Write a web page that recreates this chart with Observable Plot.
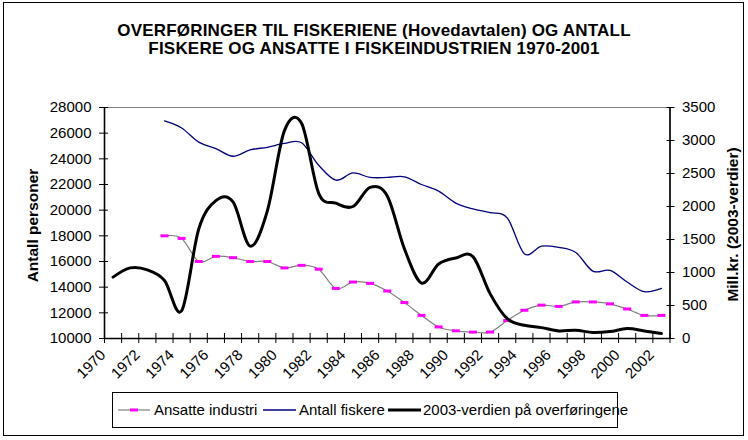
<!DOCTYPE html>
<html>
<head>
<meta charset="utf-8">
<script src="https://cdn.jsdelivr.net/npm/d3@7"></script>
<script src="https://cdn.jsdelivr.net/npm/@observablehq/plot@0.6"></script>
<style>
  html, body { margin: 0; padding: 0; background: #fff; }
  #wrap { position: relative; width: 748px; height: 440px; overflow: hidden; background: #fff;
          font-family: "Liberation Sans", Arial, sans-serif; color: #000; }
  #border { position: absolute; left: 3px; top: 2px; width: 741px; height: 434px; border: 1px solid #000; box-sizing: border-box; }
  #title { position: absolute; left: 0; top: 22px; width: 748px; text-align: center; font-weight: bold; font-size: 17px; line-height: 17.5px; letter-spacing: 0.2px; }
  #plot { position: absolute; left: 0; top: 70px; }
  #legend { position: absolute; left: 112px; top: 392px; width: 506px; height: 36px; border: 1px solid #000; box-sizing: border-box; font-size: 15px; }
  #legend .sw { position: absolute; top: 12px; }
  #legend .lt { position: absolute; top: 8px; line-height: 18px; white-space: nowrap; }
</style>
</head>
<body>
<div id="wrap">
  <div id="border"></div>
  <div id="title">OVERFØRINGER TIL FISKERIENE (Hovedavtalen) OG ANTALL<br>FISKERE OG ANSATTE I FISKEINDUSTRIEN 1970-2001</div>
  <div id="plot"></div>
  <div id="legend"></div>
</div>
<script>
// ---- data ----
const years = [1970,1971,1972,1973,1974,1975,1976,1977,1978,1979,1980,1981,1982,1983,1984,1985,1986,1987,1988,1989,1990,1991,1992,1993,1994,1995,1996,1997,1998,1999,2000,2001,2002];
const ansatteIndustri = [null,null,null,18000,17800,16000,16400,16300,16000,16000,15500,15700,15400,13900,14400,14300,13700,12800,11800,10900,10600,10500,10500,11400,12200,12600,12500,12850,12850,12700,12300,11800,11800];
const antallFiskere = [null,null,null,26950,26400,25300,24800,24200,24700,24900,25200,25250,23500,22340,22900,22550,22550,22600,22000,21480,20550,20100,19800,19400,16600,17200,17100,16700,15250,15300,14400,13650,13900];
const overforinger = [930,1070,1040,880,420,1660,2090,2070,1400,1930,3150,3260,2200,2050,2000,2290,2160,1360,840,1130,1220,1240,680,300,200,165,115,125,90,105,150,115,75];
const leftTicks = [10000,12000,14000,16000,18000,20000,22000,24000,26000,28000];
const rightTicks = [0,500,1000,1500,2000,2500,3000,3500];
const xLabels = [1970,1972,1974,1976,1978,1980,1982,1984,1986,1988,1990,1992,1994,1996,1998,2000,2002];
const seriesNames = ["Ansatte industri", "Antall fiskere", "2003-verdien på overføringene"];

// ---- scales mapping (secondary axis onto primary) ----
const leftDomain = [leftTicks[0], leftTicks[leftTicks.length - 1]];
const rightDomain = [rightTicks[0], rightTicks[rightTicks.length - 1]];
const toLeft = v => leftDomain[0] + (v - rightDomain[0]) * (leftDomain[1] - leftDomain[0]) / (rightDomain[1] - rightDomain[0]);
const rightLabel = new Map(rightTicks.map(v => [toLeft(v), String(v)]));

const rows = years.map((year, i) => ({year, ansatte: ansatteIndustri[i], fiskere: antallFiskere[i], overf: overforinger[i]}));
const xDomain = [years[0] - 0.5, years[years.length - 1] + 0.5];
const boundaries = years.map(y => y - 0.5).concat([xDomain[1]]);

const dash = { draw(ctx) { ctx.moveTo(-4, -1.5); ctx.lineTo(4, -1.5); ctx.lineTo(4, 1.5); ctx.lineTo(-4, 1.5); ctx.closePath(); } };

const chart = Plot.plot({
  width: 748,
  height: 322,
  marginLeft: 104,
  marginRight: 78.5,
  marginTop: 37,
  marginBottom: 54,
  x: {type: "linear", domain: xDomain},
  y: {type: "linear", domain: leftDomain},
  style: {fontFamily: "'Liberation Sans', Arial, sans-serif", fontSize: "15px", color: "#000", background: "transparent", overflow: "visible"},
  marks: [
    Plot.frame({stroke: "#808080"}),
    Plot.ruleX([xDomain[0], xDomain[1]], {stroke: "#000", strokeWidth: 1.6}),
    Plot.ruleY([leftDomain[0]], {stroke: "#000", strokeWidth: 1.6}),
    Plot.axisX({ticks: boundaries, tickSize: 10, dy: -5, text: null, tickFormat: () => "", label: null, stroke: "#000"}),
    Plot.text(xLabels, {x: d => d, frameAnchor: "bottom", text: d => String(d), rotate: -45, textAnchor: "end", lineAnchor: "middle", dy: 14, dx: -10, fontSize: 15}),
    Plot.axisY({anchor: "left", ticks: leftTicks, tickSize: 9, dx: 4, text: null, tickFormat: () => "", label: null}),
    Plot.axisY({anchor: "left", ticks: leftTicks, tickSize: 0, tickPadding: 13, tickFormat: d => String(d), label: null, fontSize: 15}),
    Plot.axisY({anchor: "right", ticks: rightTicks.map(toLeft), tickSize: 8, dx: -4, text: null, tickFormat: () => "", label: null}),
    Plot.axisY({anchor: "right", ticks: rightTicks.map(toLeft), tickSize: 0, tickPadding: 12, tickFormat: d => rightLabel.get(d), label: null, fontSize: 15}),
    Plot.text(["Antall personer"], {frameAnchor: "left", textAnchor: "middle", dx: -71.5, dy: 2.5, rotate: -90, fontWeight: "bold", fontSize: 15.5}),
    Plot.text(["Mill.kr. (2003-verdier)"], {frameAnchor: "right", textAnchor: "middle", dx: 63, dy: 1.5, rotate: -90, fontWeight: "bold", fontSize: 15.5}),
    Plot.line(rows.filter(d => d.ansatte != null), {x: "year", y: "ansatte", stroke: "#808080", strokeWidth: 1.2, curve: "cardinal"}),
    Plot.dot(rows.filter(d => d.ansatte != null), {x: "year", y: "ansatte", symbol: dash, fill: "#FF00FF", stroke: "none"}),
    Plot.line(rows.filter(d => d.fiskere != null), {x: "year", y: "fiskere", stroke: "#000080", strokeWidth: 1.3, curve: "cardinal"}),
    Plot.line(rows, {x: "year", y: d => toLeft(d.overf), stroke: "#000", strokeWidth: 3, curve: "cardinal"})
  ]
});
document.getElementById("plot").appendChild(chart);

// ---- legend ----
const legend = document.getElementById("legend");
const items = [
  {name: seriesNames[0], sw: 5, tx: 41, swW: 32, stroke: "#808080", sWidth: 1.2, marker: true},
  {name: seriesNames[1], sw: 150, tx: 186, swW: 33, stroke: "#000080", sWidth: 1.5, marker: false},
  {name: seriesNames[2], sw: 275, tx: 310, swW: 33, stroke: "#000", sWidth: 3, marker: false}
];
for (const it of items) {
  const ns = "http://www.w3.org/2000/svg";
  const svg = document.createElementNS(ns, "svg");
  svg.setAttribute("width", it.swW); svg.setAttribute("height", 10);
  svg.setAttribute("class", "sw");
  svg.style.left = it.sw + "px";
  const line = document.createElementNS(ns, "line");
  line.setAttribute("x1", 0); line.setAttribute("x2", it.swW); line.setAttribute("y1", 5); line.setAttribute("y2", 5);
  line.setAttribute("stroke", it.stroke); line.setAttribute("stroke-width", it.sWidth);
  svg.appendChild(line);
  if (it.marker) {
    const r = document.createElementNS(ns, "rect");
    r.setAttribute("x", it.swW / 2 - 4); r.setAttribute("y", 3.5); r.setAttribute("width", 8); r.setAttribute("height", 3);
    r.setAttribute("fill", "#FF00FF");
    svg.appendChild(r);
  }
  legend.appendChild(svg);
  const t = document.createElement("span");
  t.className = "lt"; t.style.left = it.tx + "px"; t.textContent = it.name;
  legend.appendChild(t);
}
</script>
</body>
</html>
